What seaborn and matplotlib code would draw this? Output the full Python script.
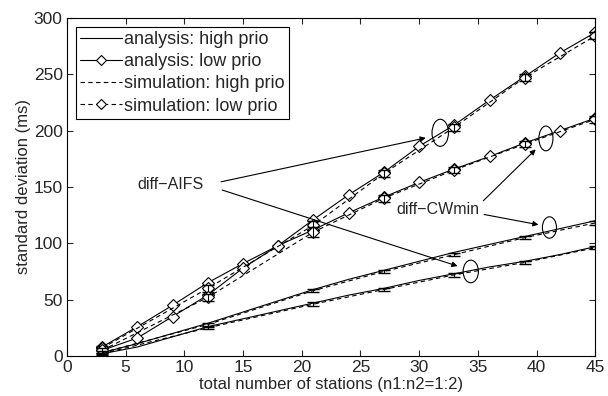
import numpy as np
import pandas as pd
import seaborn as sns
import matplotlib
matplotlib.use("Agg")
import matplotlib.pyplot as plt
from matplotlib.lines import Line2D
from matplotlib.patches import Ellipse

# ---- data ----
x_ana = [3, 6, 9, 12, 15, 18, 21, 24, 27, 30, 33, 36, 39, 42, 45]
x_sim = [3, 12, 21, 27, 33, 39, 45]

ana_aifs_low = [8, 26, 45, 65, 82, 98, 121, 143, 163, 186, 205, 227, 248, 269, 287]
ana_cw_low = [5, 16, 35, 54, 78, 98, 112, 127, 141, 154, 166, 177, 189, 200, 211]
ana_cw_high = [3, 11, 20, 29, 39, 49, 59, 68, 76, 84, 92, 99, 106, 113, 120]
ana_aifs_high = [2, 8, 17, 26, 33, 40, 47, 54, 60, 67, 73, 79, 84, 90, 97]

sim_aifs_low = [7, 60, 116, 162, 203, 247, 284]
sim_cw_low = [5, 52, 110, 140, 165, 188, 210]
sim_cw_high = [3, 28, 58, 75, 90, 105, 118]
sim_aifs_high = [2, 25, 46, 59, 72, 83, 96]

err_low = [2, 3, 4, 3, 3, 3, 3]
err_high = [1, 1, 1.5, 1.5, 1.5, 1.5, 1.5]

sns.set_theme(style="ticks")
plt.rcParams['font.family'] = ['Liberation Sans', 'DejaVu Sans']

fig = plt.figure(figsize=(6.08, 3.96), dpi=100)
ax = fig.add_axes([0.110, 0.101, 0.869, 0.854])

lw = 0.8
dash = (0, (4, 3))

def line(x, y, dashed, marker):
    df = pd.DataFrame({'x': x, 'y': y})
    kw = dict(color='black', linewidth=lw, ax=ax, legend=False)
    if dashed:
        kw['linestyle'] = dash
    if marker:
        kw.update(marker='D', markersize=6.5, markerfacecolor='white',
                  markeredgecolor='black', markeredgewidth=0.8)
    sns.lineplot(data=df, x='x', y='y', **kw)

for y in [ana_aifs_low, ana_cw_low]:
    line(x_ana, y, False, True)
for y in [ana_cw_high, ana_aifs_high]:
    line(x_ana, y, False, False)
for y in [sim_aifs_low, sim_cw_low]:
    line(x_sim, y, True, True)
    ax.errorbar(x_sim, y, yerr=err_low, fmt='none', ecolor='black', elinewidth=0.8, capsize=4)
for y in [sim_cw_high, sim_aifs_high]:
    line(x_sim, y, True, False)
    ax.errorbar(x_sim, y, yerr=err_high, fmt='none', ecolor='black', elinewidth=0.8, capsize=4)

ax.set_xlim(0, 45)
ax.set_ylim(0, 300)
ax.set_xticks(range(0, 46, 5))
ax.set_yticks(range(0, 301, 50))
ax.tick_params(direction='in', top=True, right=True, labelsize=12.5, length=4, width=0.8, pad=3)
for s in ax.spines.values():
    s.set_visible(True)
    s.set_linewidth(0.8)
    s.set_color('black')
ax.set_xlabel('total number of stations (n1:n2=1:2)', fontsize=12, labelpad=1.5)
ax.set_ylabel('standard deviation (ms)', fontsize=12, labelpad=2)

# annotations
for (cx, cy, w, h) in [(31.8, 198, 1.4, 24), (40.8, 193, 1.2, 22), (41.1, 114, 1.2, 19), (34.4, 75, 1.3, 20)]:
    ax.add_patch(Ellipse((cx, cy), w, h, fill=False, edgecolor='black', linewidth=0.8))

ax.text(8.8, 152, 'diff\u2212AIFS', fontsize=11.5, ha='center', va='center')
ax.text(31.6, 130, 'diff\u2212CWmin', fontsize=11.5, ha='center', va='center')
ap = dict(arrowstyle='-|>', color='black', lw=0.8, mutation_scale=8)
ax.annotate('', xy=(30.8, 194), xytext=(12.9, 154), arrowprops=ap)
ax.annotate('', xy=(33.5, 79), xytext=(13.0, 148), arrowprops=ap)
ax.annotate('', xy=(40.1, 185), xytext=(35.3, 136), arrowprops=ap)
ax.annotate('', xy=(40.4, 116), xytext=(35.3, 126), arrowprops=ap)

lmk = dict(marker='D', markersize=5, markerfacecolor='white', markeredgecolor='black', markeredgewidth=0.8)
handles = [
    Line2D([], [], color='black', lw=lw),
    Line2D([], [], color='black', lw=lw, **lmk),
    Line2D([], [], color='black', lw=lw, linestyle=dash),
    Line2D([], [], color='black', lw=lw, linestyle=dash, **lmk),
]
labels = ['analysis: high prio', 'analysis: low prio', 'simulation: high prio', 'simulation: low prio']
leg = ax.legend(handles, labels, loc='upper left', fontsize=13, frameon=True, fancybox=False,
                edgecolor='black', framealpha=1, handlelength=2.3, handletextpad=0.1,
                borderpad=0.25, labelspacing=0.28, borderaxespad=0.5)
leg.get_frame().set_linewidth(0.8)

fig.savefig('out.png', dpi=100)
